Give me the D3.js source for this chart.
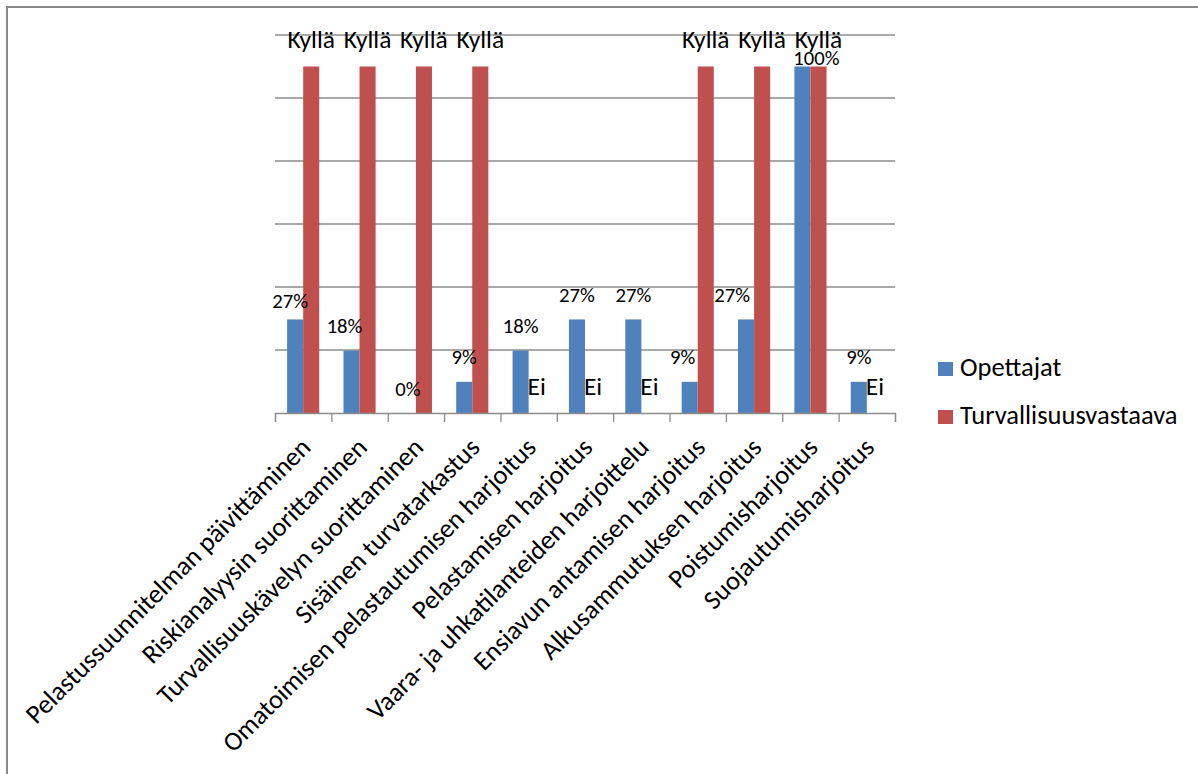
<!DOCTYPE html>
<html><head><meta charset="utf-8">
<script src="https://cdn.jsdelivr.net/npm/d3@7/dist/d3.min.js"></script>
<style>
html,body{margin:0;padding:0;background:#fff;}
svg{display:block;font-family:Carlito, Lato, "Open Sans", sans-serif;}
</style></head>
<body>
<svg id="c" width="1198" height="774"></svg>
<script>
const categories = [
  "Pelastussuunnitelman päivittäminen",
  "Riskianalyysin suorittaminen",
  "Turvallisuuskävelyn suorittaminen",
  "Sisäinen turvatarkastus",
  "Omatoimisen pelastautumisen harjoitus",
  "Pelastamisen harjoitus",
  "Vaara- ja uhkatilanteiden harjoittelu",
  "Ensiavun antamisen harjoitus",
  "Alkusammutuksen harjoitus",
  "Poistumisharjoitus",
  "Suojautumisharjoitus"
];
const seriesNames = ["Opettajat", "Turvallisuusvastaava"];
const opettajat = [0.27, 0.18, 0, 0.09, 0.18, 0.27, 0.27, 0.09, 0.27, 1.00, 0.09];
const turvallisuusvastaava = [1, 1, 1, 1, 0, 0, 0, 1, 1, 1, 0];
const turvaLabels = ["Kyllä","Kyllä","Kyllä","Kyllä","Ei","Ei","Ei","Kyllä","Kyllä","Kyllä","Ei"];
const gridTicks = [0, 2/11, 4/11, 6/11, 8/11, 10/11, 12/11];

const colors = {"Opettajat":"#4F81BD","Turvallisuusvastaava":"#C0504D"};
const svg = d3.select("#c");

// outer border
svg.append("rect").attr("x",7).attr("y",7).attr("width",1250).attr("height",800)
  .attr("fill","none").attr("stroke","#8a8a8a").attr("stroke-width",2);

const L = 275, R = 895, T = 35, B = 413;
const x = d3.scaleBand().domain(categories).range([L,R]).paddingInner(0.43).paddingOuter(0.215);
const xs = d3.scaleBand().domain(seriesNames).range([0, x.bandwidth()]);
const y = d3.scaleLinear().domain([0, 12/11]).range([B, T]);

// gridlines
svg.append("g").selectAll("line").data(gridTicks.slice(1)).join("line")
  .attr("x1",L).attr("x2",R).attr("y1",d=>y(d)).attr("y2",d=>y(d))
  .attr("stroke","#8c8c8c").attr("stroke-width",1.3);

// bars
const rows = categories.map((c,i)=>({c, i, vals:[
  {s:"Opettajat", v:opettajat[i]},
  {s:"Turvallisuusvastaava", v:turvallisuusvastaava[i]}
]}));
const g = svg.append("g");
g.selectAll("g").data(rows).join("g")
  .attr("transform", d=>`translate(${x(d.c)},0)`)
  .selectAll("rect").data(d=>d.vals).join("rect")
  .attr("x", d=>xs(d.s)).attr("width", xs.bandwidth())
  .attr("y", d=>y(d.v)).attr("height", d=>B - y(d.v))
  .attr("fill", d=>colors[d.s]);

// category axis (ticks at category boundaries)
const xb = d3.scaleLinear().domain([0, categories.length]).range([L,R]);
const axis = svg.append("g").attr("transform",`translate(0,${B})`)
  .call(d3.axisBottom(xb).tickValues(d3.range(0, categories.length+1)).tickSize(9).tickFormat(""));
axis.selectAll("path,line").attr("stroke","#8c8c8c").attr("stroke-width",1.3);

// category labels
svg.append("g").selectAll("text").data(categories).join("text")
  .attr("transform", d=>`translate(${x(d)+x.bandwidth()/2+9},${B+36}) rotate(-45)`)
  .attr("text-anchor","end").attr("font-size",26.5).attr("fill","#000")
  .text(d=>d);

// data labels: Opettajat
const fmt = d3.format(".0%");
const nudge = {0:[-5,6.5], 1:[-7,0], 7:[-7,0], 8:[-14,0], 9:[14,16]};
svg.append("g").selectAll("text").data(opettajat).join("text")
  .attr("x", (d,i)=> x(categories[i]) + xs("Opettajat") + xs.bandwidth()/2 + (nudge[i]?nudge[i][0]:0))
  .attr("y", (d,i)=> y(d) - 17.5 + (nudge[i]?nudge[i][1]:0))
  .attr("text-anchor","middle").attr("font-size",20.7).attr("fill","#000")
  .text(d=>fmt(d));

// data labels: Turvallisuusvastaava
svg.append("g").selectAll("text").data(turvallisuusvastaava).join("text")
  .attr("x", (d,i)=> x(categories[i]) + xs("Turvallisuusvastaava") + xs.bandwidth()/2)
  .attr("y", d=> y(d) - 18.5)
  .attr("text-anchor","middle").attr("font-size",25.5).attr("fill","#000")
  .text((d,i)=>turvaLabels[i]);

// legend
const lg = svg.append("g");
seriesNames.forEach((s,i)=>{
  const yy = 362 + i*48;
  lg.append("rect").attr("x",938).attr("y",yy).attr("width",15).attr("height",14).attr("fill",colors[s]);
  lg.append("text").attr("x",960).attr("y",yy+14).attr("font-size",26.5).attr("fill","#000").text(s);
});
</script>
</body></html>
